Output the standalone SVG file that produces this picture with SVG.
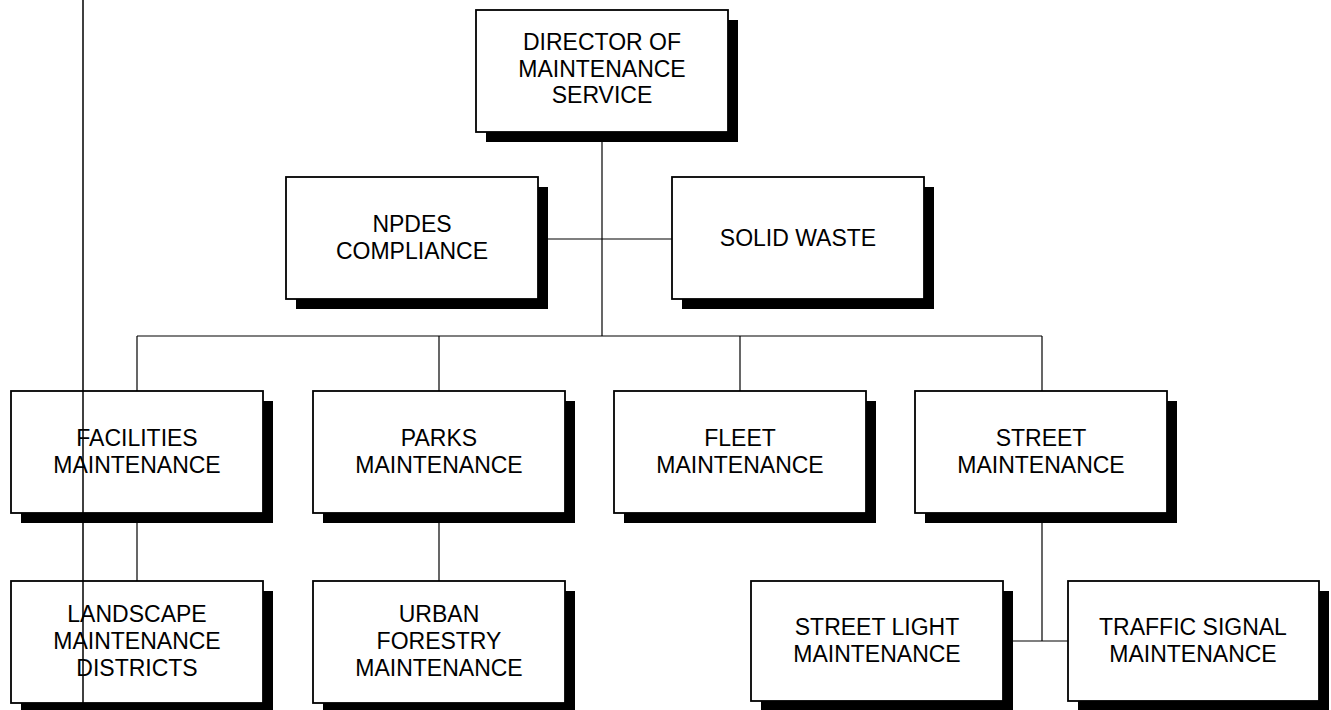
<svg xmlns="http://www.w3.org/2000/svg" width="1331" height="710" viewBox="0 0 1331 710">
  <style>
    .shadow { fill: #000; }
    .box { fill: #fff; stroke: #000; stroke-width: 1.8; }
    .label { font-family: "Liberation Sans", Arial, sans-serif; font-size: 23px; fill: #000; text-anchor: middle; }
    .conn { stroke: #000; stroke-width: 1.2; fill: none; }
  </style>
  <rect width="1331" height="710" fill="#fff"/>

  <!-- connectors -->
  <g id="connectors" class="conn">
    <line x1="602" y1="142" x2="602" y2="336"/>
    <line x1="548" y1="239" x2="672" y2="239"/>
    <line x1="137" y1="336" x2="1042" y2="336"/>
    <line x1="137" y1="336" x2="137" y2="391"/>
    <line x1="439" y1="336" x2="439" y2="391"/>
    <line x1="740" y1="336" x2="740" y2="391"/>
    <line x1="1042" y1="336" x2="1042" y2="391"/>
    <line x1="137" y1="523" x2="137" y2="581"/>
    <line x1="439" y1="523" x2="439" y2="581"/>
    <line x1="1042" y1="523" x2="1042" y2="641"/>
    <line x1="1013" y1="641" x2="1068" y2="641"/>
  </g>

  <g id="director">
    <rect class="shadow" x="486" y="20" width="252" height="122"/>
    <rect class="box" x="476" y="10" width="252" height="122"/>
    <text class="label" x="602" y="50">DIRECTOR OF</text>
    <text class="label" x="602" y="77">MAINTENANCE</text>
    <text class="label" x="602" y="103">SERVICE</text>
  </g>

  <g id="npdes">
    <rect class="shadow" x="296" y="187" width="252" height="122"/>
    <rect class="box" x="286" y="177" width="252" height="122"/>
    <text class="label" x="412" y="232">NPDES</text>
    <text class="label" x="412" y="259">COMPLIANCE</text>
  </g>

  <g id="solid-waste">
    <rect class="shadow" x="682" y="187" width="252" height="122"/>
    <rect class="box" x="672" y="177" width="252" height="122"/>
    <text class="label" x="798" y="246">SOLID WASTE</text>
  </g>

  <g id="facilities">
    <rect class="shadow" x="21" y="401" width="252" height="122"/>
    <rect class="box" x="11" y="391" width="252" height="122"/>
    <text class="label" x="137" y="446">FACILITIES</text>
    <text class="label" x="137" y="473">MAINTENANCE</text>
  </g>

  <g id="parks">
    <rect class="shadow" x="323" y="401" width="252" height="122"/>
    <rect class="box" x="313" y="391" width="252" height="122"/>
    <text class="label" x="439" y="446">PARKS</text>
    <text class="label" x="439" y="473">MAINTENANCE</text>
  </g>

  <g id="fleet">
    <rect class="shadow" x="624" y="401" width="252" height="122"/>
    <rect class="box" x="614" y="391" width="252" height="122"/>
    <text class="label" x="740" y="446">FLEET</text>
    <text class="label" x="740" y="473">MAINTENANCE</text>
  </g>

  <g id="street">
    <rect class="shadow" x="925" y="401" width="252" height="122"/>
    <rect class="box" x="915" y="391" width="252" height="122"/>
    <text class="label" x="1041" y="446">STREET</text>
    <text class="label" x="1041" y="473">MAINTENANCE</text>
  </g>

  <g id="landscape">
    <rect class="shadow" x="21" y="591" width="252" height="122"/>
    <rect class="box" x="11" y="581" width="252" height="122"/>
    <text class="label" x="137" y="622">LANDSCAPE</text>
    <text class="label" x="137" y="649">MAINTENANCE</text>
    <text class="label" x="137" y="676">DISTRICTS</text>
  </g>

  <g id="urban-forestry">
    <rect class="shadow" x="323" y="591" width="252" height="122"/>
    <rect class="box" x="313" y="581" width="252" height="122"/>
    <text class="label" x="439" y="622">URBAN</text>
    <text class="label" x="439" y="649">FORESTRY</text>
    <text class="label" x="439" y="676">MAINTENANCE</text>
  </g>

  <g id="street-light">
    <rect class="shadow" x="761" y="591" width="252" height="120"/>
    <rect class="box" x="751" y="581" width="252" height="120"/>
    <text class="label" x="877" y="635">STREET LIGHT</text>
    <text class="label" x="877" y="662">MAINTENANCE</text>
  </g>

  <g id="traffic-signal">
    <rect class="shadow" x="1078" y="591" width="251" height="120"/>
    <rect class="box" x="1068" y="581" width="251" height="120"/>
    <text class="label" x="1193" y="635">TRAFFIC SIGNAL</text>
    <text class="label" x="1193" y="662">MAINTENANCE</text>
  </g>

  <!-- vertical rule on the left, drawn over the boxes -->
  <line x1="83" y1="0" x2="83" y2="703" stroke="#000" stroke-width="1.5"/>
</svg>
